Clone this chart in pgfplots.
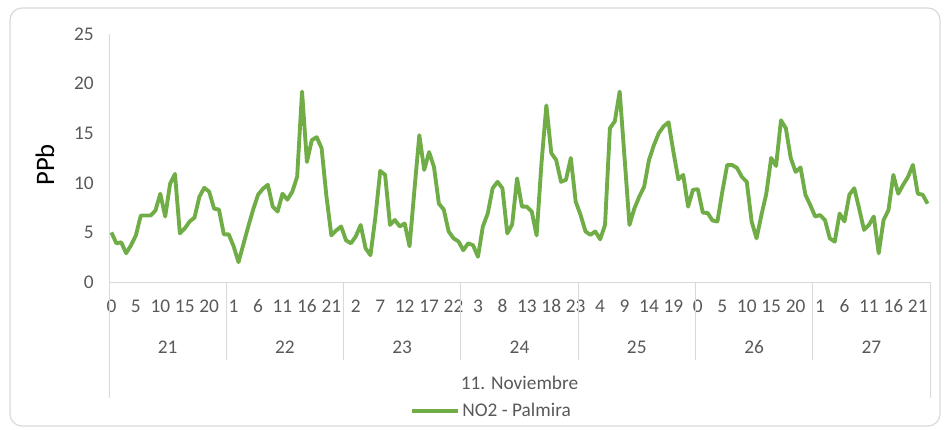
\documentclass[border=0pt]{standalone}
\usepackage{pgfplots}
\usepackage{pgfplotstable}
\pgfplotsset{compat=1.18}
\usepackage{fontspec}
\setmainfont{Carlito}
\definecolor{ngreen}{HTML}{70AD47}
\definecolor{txt}{HTML}{595959}
\definecolor{lgray}{HTML}{D9D9D9}
\pgfplotstableread{
i v
0 5.0
1 3.9
2 4.0
3 2.9
4 3.7
5 4.7
6 6.7
7 6.7
8 6.7
9 7.2
10 8.9
11 6.6
12 9.9
13 10.9
14 4.9
15 5.4
16 6.1
17 6.5
18 8.6
19 9.5
20 9.1
21 7.4
22 7.3
23 4.8
24 4.8
25 3.6
26 2.0
27 3.8
28 5.6
29 7.3
30 8.8
31 9.4
32 9.8
33 7.6
34 7.1
35 8.9
36 8.3
37 9.1
38 10.6
39 19.2
40 12.1
41 14.3
42 14.6
43 13.5
44 8.6
45 4.7
46 5.2
47 5.6
48 4.2
49 3.9
50 4.6
51 5.75
52 3.4
53 2.7
54 6.5
55 11.2
56 10.8
57 5.75
58 6.25
59 5.6
60 5.9
61 3.6
62 9.3
63 14.8
64 11.3
65 13.1
66 11.6
67 7.9
68 7.3
69 5.1
70 4.4
71 4.1
72 3.2
73 3.9
74 3.7
75 2.55
76 5.6
77 6.9
78 9.45
79 10.1
80 9.45
81 4.9
82 5.8
83 10.45
84 7.6
85 7.6
86 7.1
87 4.7
88 12.0
89 17.8
90 13.0
91 12.3
92 10.1
93 10.3
94 12.5
95 8.1
96 6.75
97 5.1
98 4.75
99 5.1
100 4.3
101 5.75
102 15.5
103 16.2
104 19.2
105 12.5
106 5.75
107 7.4
108 8.6
109 9.6
110 12.3
111 13.8
112 15.0
113 15.7
114 16.1
115 13.1
116 10.35
117 10.8
118 7.6
119 9.3
120 9.35
121 7.0
122 6.95
123 6.2
124 6.1
125 9.1
126 11.8
127 11.8
128 11.5
129 10.6
130 10.1
131 6.1
132 4.4
133 6.75
134 8.9
135 12.5
136 11.7
137 16.3
138 15.5
139 12.5
140 11.1
141 11.55
142 8.8
143 7.75
144 6.6
145 6.75
146 6.25
147 4.4
148 4.06
149 6.9
150 6.1
151 8.8
152 9.45
153 7.4
154 5.25
155 5.75
156 6.6
157 2.9
158 6.25
159 7.25
160 10.8
161 8.9
162 9.8
163 10.6
164 11.8
165 8.9
166 8.8
167 7.9
}\datatable
\begin{document}
\begin{tikzpicture}[x=0.75pt,y=0.75pt]
\useasboundingbox (0,0) rectangle (945,429);
\draw[lgray, line width=0.9pt, rounded corners=9pt] (10,3) rectangle (940,421);
\begin{axis}[
  at={(81.75pt,110.25pt)}, anchor=south west,
  scale only axis, width=615.75pt, height=186pt,
  xmin=-0.5, xmax=167.5, ymin=0, ymax=25,
  axis x line=bottom, axis y line=left,
  axis line style={-, draw=lgray, line width=0.75pt},
  ytick={0,5,...,25},
  xtick={0,5,...,165},
  xticklabels={0,5,10,15,20,1,6,11,16,21,2,7,12,17,22,3,8,13,18,23,4,9,14,19,0,5,10,15,20,1,6,11,16,21},
  major tick length=0pt,
  tick label style={font=\fontsize{14.5}{17}\selectfont, text=txt},
  /pgf/number format/assume math mode=true,
  xticklabel style={anchor=base, yshift=-22.5pt},
  yticklabel style={anchor=east, xshift=-8pt},
  clip=false,
  ylabel={PPb},
  ylabel style={at={(axis description cs:-0.078,0.472)}, anchor=center, font=\fontsize{20}{24}\selectfont, text=black},
  legend style={at={(axis description cs:0.4665,-0.52)}, anchor=center, draw=none, fill=none, font=\fontsize{14.5}{17}\selectfont, text=txt},
  legend image code/.code={\draw[#1, line width=2.9pt] (0pt,0pt) -- (34pt,0pt);},
]
\addplot[ngreen, line width=2.9pt, line join=round, no markers] table[x=i, y=v] {\datatable};
\addlegendentry{NO2 - Palmira}
\draw[lgray, line width=0.75pt] (axis cs:-0.5,0) -- ++(0pt,-87pt);
\draw[lgray, line width=0.75pt] (axis cs:167.5,0) -- ++(0pt,-87pt);
\draw[lgray, line width=0.75pt] (axis cs:23.5,0) -- ++(0pt,-58.5pt);
\draw[lgray, line width=0.75pt] (axis cs:47.5,0) -- ++(0pt,-58.5pt);
\draw[lgray, line width=0.75pt] (axis cs:71.5,0) -- ++(0pt,-58.5pt);
\draw[lgray, line width=0.75pt] (axis cs:95.5,0) -- ++(0pt,-58.5pt);
\draw[lgray, line width=0.75pt] (axis cs:119.5,0) -- ++(0pt,-58.5pt);
\draw[lgray, line width=0.75pt] (axis cs:143.5,0) -- ++(0pt,-58.5pt);
\node[anchor=base, font=\fontsize{14.5}{17}\selectfont, text=txt] at ([yshift=-53.25pt]axis cs:11.5,0) {21};
\node[anchor=base, font=\fontsize{14.5}{17}\selectfont, text=txt] at ([yshift=-53.25pt]axis cs:35.5,0) {22};
\node[anchor=base, font=\fontsize{14.5}{17}\selectfont, text=txt] at ([yshift=-53.25pt]axis cs:59.5,0) {23};
\node[anchor=base, font=\fontsize{14.5}{17}\selectfont, text=txt] at ([yshift=-53.25pt]axis cs:83.5,0) {24};
\node[anchor=base, font=\fontsize{14.5}{17}\selectfont, text=txt] at ([yshift=-53.25pt]axis cs:107.5,0) {25};
\node[anchor=base, font=\fontsize{14.5}{17}\selectfont, text=txt] at ([yshift=-53.25pt]axis cs:131.5,0) {26};
\node[anchor=base, font=\fontsize{14.5}{17}\selectfont, text=txt] at ([yshift=-53.25pt]axis cs:155.5,0) {27};
\node[anchor=base, font=\fontsize{14.5}{17}\selectfont, text=txt] at ([yshift=-80.25pt]axis cs:83.5,0) {11. Noviembre};
\end{axis}
\end{tikzpicture}
\end{document}
